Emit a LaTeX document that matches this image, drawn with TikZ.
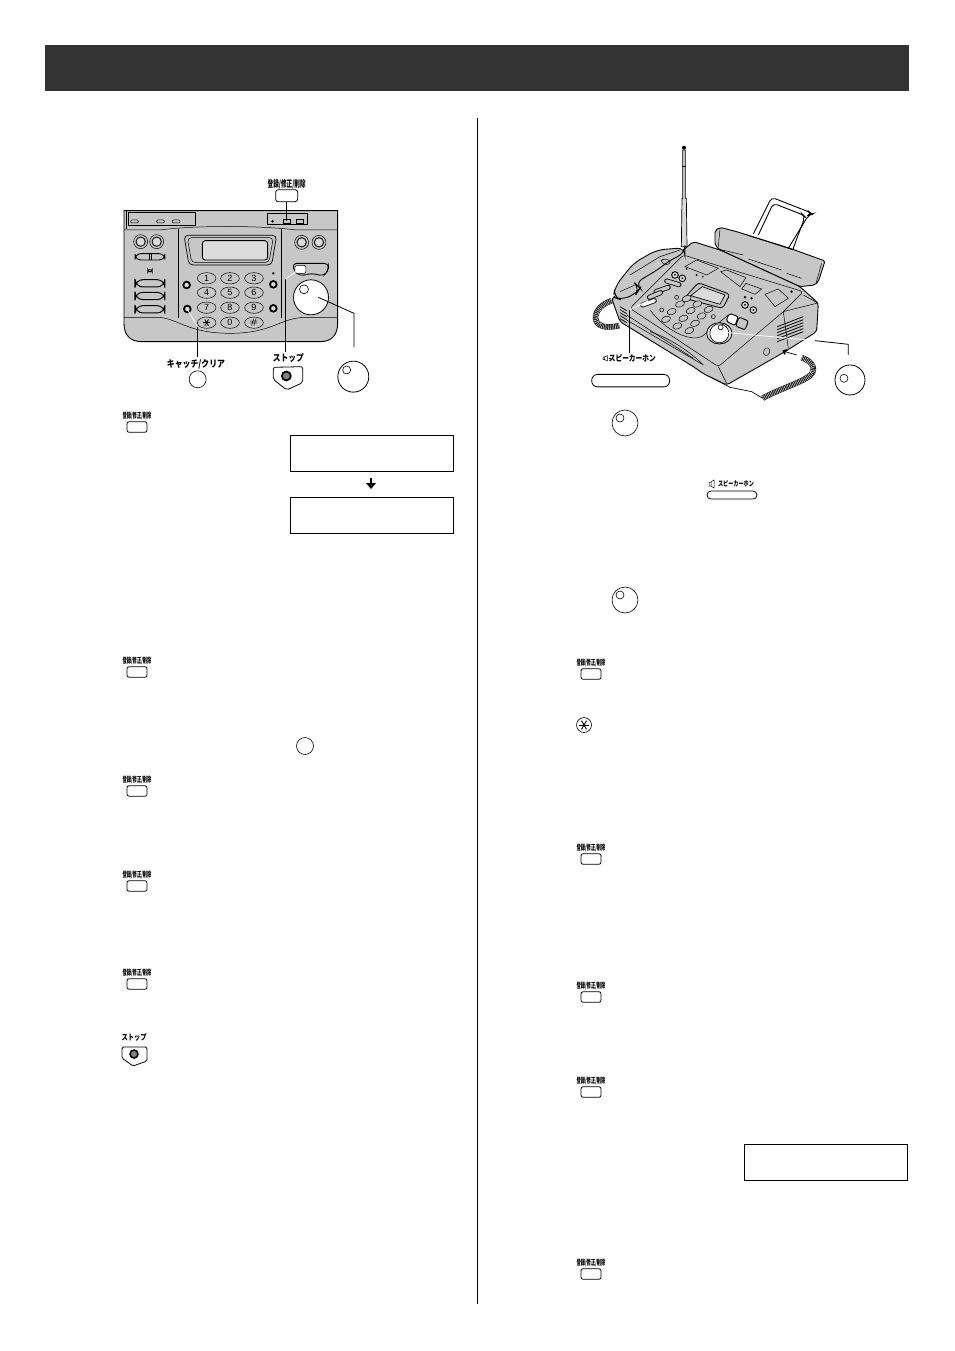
\documentclass[tikz,border=0pt]{standalone}
\usepackage{fontspec}
\setsansfont{Liberation Sans}
\newfontfamily\cjk{Noto Sans CJK JP}
\usetikzlibrary{positioning}
\definecolor{panelgray}{gray}{.78}
\definecolor{lightgray}{gray}{.86}
\definecolor{darkbar}{gray}{.2}
\newcommand{\regtext}[2]{\resizebox{#1pt}{#2pt}{\cjk\bfseries 登録/修正/削除}}
\newcommand{\stoptext}[2]{\resizebox{#1pt}{#2pt}{\cjk\bfseries ストップ}}
\newcommand{\speakertext}[2]{\resizebox{#1pt}{#2pt}{\cjk\bfseries スピーカーホン}}
\tikzset{
	regbox/.style={draw,rounded corners=2pt,minimum width=20pt,minimum height=10.5pt,inner sep=0pt,line width=.8pt},
	bigbox/.style={draw,rounded corners=2.5pt,minimum width=22pt,minimum height=12pt,inner sep=0pt,line width=.8pt,fill=white},
	lcdbox/.style={draw,minimum width=163pt,minimum height=36pt,inner sep=0pt,line width=.8pt},
	textlabel/.style={inner sep=0pt,outer sep=0pt},
	dialring/.style={draw,circle,inner sep=0pt,line width=.6pt,fill=white},
	pad/.style={draw,line width=.5pt,fill=panelgray},
	thinline/.style={line width=.5pt},
	stopicon/.style={circle,draw,fill=gray,inner sep=0pt},
	coilcord/.style={line width=5pt,draw=gray!50,dash pattern=on .7pt off 1pt,preaction={draw=black,solid,line width=5.6pt}},
	pillblack/.style={line width=5pt,line cap=round,draw=black},
}
\begin{document}
\begin{tikzpicture}[x=1pt,y=-1pt]
	\useasboundingbox (0,0) rectangle (954,1351);
	% page furniture
	\node[fill=darkbar,minimum width=864pt,minimum height=46pt,inner sep=0pt] (banner) at (477,68) {};
	\coordinate (septop) at (477,118);
	\coordinate (sepbot) at (477,1304);
	\draw[line width=.8pt] (septop) -- (sepbot);
	%
	% keys in the text
	\foreach \n/\x/\y in {la/137/416,lb/137/661,lc/137/780,ld/137/875,le/137/973,ra/591/663,rb/591/848,rc/591/986,rd/591/1081,re/591/1263}{
		\node[textlabel] (lbl\n) at (\x,\y) {\regtext{29}{6.5}};
		\node[regbox] (key\n) at (\x,\y+11) {};
	}
	\node[textlabel] (lblstopkey) at (134,1037) {\stoptext{25}{7}};
	\node[textlabel] (lblspeaker) at (736,484) {\speakertext{36}{6}};
	\node[draw,rounded corners=4pt,minimum width=50pt,minimum height=8pt,inner sep=0pt,line width=.8pt] (keyspeaker) at (732,495) {};
	\draw[thinline] (709,482) rectangle (711,486) (711,482) -- (714,480) -- (714,488) -- (711,486);
	%
	% stop key in the text
	\draw[line width=.8pt,rounded corners=1.5pt] (122,1047) -- (147,1047) -- (147,1061) -- (133,1066) -- (122,1058) -- cycle;
	\node[stopicon,line width=1.5pt,minimum size=8pt] (iconstop) at (134,1054) {};
	%
	% round keys in the text
	\foreach \n/\x/\y in {dialb/625/423,dialc/625/600}{
		\node[dialring,minimum size=26pt] (\n) at (\x,\y) {};
		\node[dialring,minimum size=8pt] (\n in) at (\x-5,\y-5) {};
	}
	\node[dialring,minimum size=17pt] (keycatch) at (305,746) {};
	\node[dialring,minimum size=15pt] (keystar) at (584,725) {};
	\foreach \a in {0,60,120}{
		\draw[line width=.9pt,shift={(584,725)},rotate=\a] (-5,0) -- (5,0);
	}
	%
	% display boxes
	\node[lcdbox] (lcda) at (372,453) {};
	\node[lcdbox] (lcdb) at (372,515) {};
	\node[lcdbox] (lcdc) at (826,1162) {};
	\draw[line width=2.2pt] (371,478) -- (371,484);
	\fill (366,483) -- (376,483) -- (371,489) -- cycle;
	%
	% front panel, read off at 3x
	\begin{scope}[shift={(110,170)},x=.3333pt,y=-.3333pt]
		\draw[line width=.9pt,fill=panelgray] (42,122) -- (683,122) -- (683,460) .. controls (683,495) and (665,515) .. (630,515)
			-- (95,515) .. controls (60,515) and (42,495) .. (42,460) -- cycle;
		\draw[thinline] (50,122) -- (50,178);
		\draw[thinline] (42,180) -- (150,180) .. controls (250,166) and (450,166) .. (560,180) -- (683,180);
		\draw[thinline] (42,442) -- (140,442) .. controls (200,442) and (230,490) .. (360,490) .. controls (490,490) and (510,442) .. (590,442) -- (683,442);
		\draw[thinline] (205,176) -- (205,445);
		\draw[thinline] (515,176) -- (515,445);
		\draw[pad] (56,127) rectangle (255,167);
		\draw[pad] (472,130) rectangle (592,162);
		\foreach \x in {62,140,187}{
			\draw[pad,rounded corners=1pt] (\x,150) rectangle (\x+23,159);
		}
		\fill (488,154) circle (4);
		\draw[pad] (520,148) rectangle (540,160);
		\draw[pad] (558,148) rectangle (580,160);
		% display
		\draw[line width=.7pt,rounded corners=4pt,fill=panelgray] (222,196) -- (500,196) -- (485,285) -- (237,285) -- cycle;
		\draw[thinline,rounded corners=4pt] (232,203) -- (490,203) -- (477,278) -- (245,278) -- cycle;
		\draw[line width=.9pt,rounded corners=3pt,fill=lightgray] (277,212) rectangle (473,270);
		% left and right buttons
		\foreach \x/\y in {92/215,140/215,575/217,627/217}{
			\draw[pad] (\x,\y) circle (21);
			\draw[line width=.9pt,fill=lightgray] (\x,\y) circle (14);
		}
		\draw[pad,line width=.9pt,rounded corners=6pt] (75,251) rectangle (165,270);
		\draw[thinline] (118,251) -- (118,270);
		\draw[thinline] (124,251) -- (124,270);
		\draw[pad,rounded corners=3pt,fill=white] (113,299) rectangle (127,306);
		\foreach \y in {329,367,407}{
			\draw[pad,line width=1pt,rounded corners=8pt] (75,\y) rectangle (165,\y+22);
		}
		\foreach \x/\y in {230/345,232/417,490/343,490/415}{
			\draw[line width=1.8pt,fill=lightgray] (\x,\y) circle (10);
		}
		\fill (490,310) circle (4);
		% key pad
		\foreach \n/\x/\y/\d in {a/290/325/1,b/360/325/2,c/432/325/3,d/290/368/4,e/360/368/5,f/432/368/6,g/290/413/7,h/360/413/8,i/432/413/9,k/360/458/0}{
			\draw[pad] (\x,\y) ellipse (28 and 17);
			\node[textlabel,font=\sffamily\fontsize{9}{9}\selectfont] (dig\n) at (\x,\y) {\d};
		}
		\draw[pad] (290,458) ellipse (28 and 17);
		\draw[pad] (432,458) ellipse (28 and 17);
		\foreach \a in {0,60,120}{
			\draw[line width=.8pt,shift={(290,458)},rotate=\a] (-11,0) -- (11,0);
		}
		\node[textlabel,font=\bfseries\fontsize{8}{8}\selectfont] (dighash) at (432,458) {\#};
		% stop bar
		\draw[line width=.9pt,rounded corners=4pt,fill=panelgray] (548,280) -- (655,280) -- (655,302) -- (640,318) -- (605,310) -- (570,318) -- (552,302) -- cycle;
		\draw[pad,rounded corners=2pt,fill=white] (555,286) rectangle (588,310);
		% dial
		\node[dialring,minimum size=35pt,line width=.8pt] (dial) at (603,382) {};
		\node[dialring,minimum size=9pt] (dialdot) at (582,358) {};
		% pointers
		\node[textlabel] (lblreg) at (530,42) {\regtext{38}{8}};
		\node[bigbox] (keyreg) at (530,77) {};
		\coordinate (regpin) at (530,152);
		\draw[line width=.8pt] (keyreg) -- (regpin);
		\node[textlabel] (lblcatch) at (258,583) {\resizebox{58pt}{8pt}{\cjk\bfseries キャッチ/クリア}};
		\node[dialring,minimum size=17pt] (keyclear) at (263,628) {};
		\coordinate (catchpin) at (232,417);
		\coordinate (catchbend) at (262,470);
		\coordinate (catchend) at (262,562);
		\draw[draw=white,line width=.8pt] (catchpin) -- (catchbend);
		\draw[line width=.8pt] (catchbend) -- (catchend);
		\node[textlabel] (lblstop) at (535,563) {\stoptext{31}{8}};
		\coordinate (stoppin) at (568,298);
		\coordinate (stopbend) at (525,328);
		\coordinate (stopend) at (525,545);
		\draw[draw=white,line width=.8pt] (stoppin) -- (stopbend);
		\draw[line width=.8pt] (stopbend) -- (stopend);
		\draw[line width=.8pt,rounded corners=2pt] (490,592) -- (578,590) -- (578,638) -- (530,660) -- (490,628) -- cycle;
		\node[stopicon,line width=1.7pt,minimum size=9pt] (iconstopbig) at (529,618) {};
		\node[dialring,minimum size=31pt,line width=.8pt] (dialsmall) at (730,620) {};
		\node[dialring,minimum size=8pt] (dialsmalldot) at (710,600) {};
		\coordinate (dialpin) at (625,382);
		\coordinate (dialbend) at (732,430);
		\coordinate (dialend) at (732,532);
		\draw[line width=.8pt] (dialpin) -- (dialbend) -- (dialend);
	\end{scope}
	%
	% the whole machine, read off at 3x
	\begin{scope}[shift={(570,135)},x=.3333pt,y=-.3333pt]
		% cords behind the body
		\draw[coilcord] (125,497) .. controls (85,510) and (72,540) .. (78,555) .. controls (85,580) and (120,578) .. (148,572);
		\draw[line width=.7pt] (645,650) -- (680,660);
		\draw[coilcord] (695,668) .. controls (730,680) and (740,705) .. (720,722) .. controls (690,745) and (620,765) .. (578,790);
		\draw[line width=.7pt] (578,790) -- (545,770) -- (480,757) -- (400,715);
		% antenna
		\draw[line width=.7pt,fill=lightgray] (338,45) -- (346,45) -- (346,190) -- (349,190) -- (351,335) -- (334,335) -- (336,190) -- (338,190) -- cycle;
		\fill (342,38) circle (6);
		\draw[thinline] (336,95) -- (348,95);
		% paper support wire
		\draw[line width=.9pt,rounded corners=4pt] (550,297) -- (605,187) -- (720,232) -- (726,237) -- (716,240) -- (655,340);
		\draw[line width=.9pt,rounded corners=4pt] (565,300) -- (610,205) -- (700,240) -- (705,245) -- (668,345);
		% paper tray
		\draw[line width=.9pt,fill=panelgray,rounded corners=2pt] (435,287) -- (450,277) -- (500,290) -- (660,340) -- (765,378) -- (745,440) -- (735,450) -- (690,455) -- (450,345) -- (435,330) -- cycle;
		\draw[thinline] (450,282) -- (445,335);
		\draw[thinline] (755,385) -- (738,445);
		\draw[thinline] (530,300) -- (670,345);
		\draw[thinline] (435,340) -- (520,360);
		\draw[thinline] (535,372) -- (635,405);
		\draw[thinline] (650,415) -- (695,430);
		% handset rest and body
		\draw[line width=.9pt,fill=panelgray,rounded corners=3pt] (340,345) -- (370,320) -- (450,345) -- (690,455) -- (745,505) -- (740,590) -- (645,650) -- (470,750) -- (400,716) -- (370,695) -- (150,560) -- (125,490) -- cycle;
		% top face
		\draw[thinline,fill=panelgray,rounded corners=3pt] (180,520) -- (340,360) -- (700,470) -- (640,530) -- (445,695) -- cycle;
		\draw[thinline] (640,530) -- (740,505);
		\draw[thinline] (445,695) -- (470,745);
		\draw[thinline] (640,530) -- (655,640);
		\draw[thinline] (170,540) -- (370,670);
		\draw[thinline] (170,555) -- (400,690);
		\draw[thinline] (240,590) .. controls (300,610) and (360,650) .. (400,690);
		\draw[thinline] (240,525) .. controls (290,590) and (360,620) .. (395,605) -- (475,540);
		% vents
		\foreach \i in {0,...,5}{
			\draw[line width=.8pt] (622,575+\i*9) -- (700,\i*9+545);
		}
		\foreach \i in {0,...,4}{
			\draw[line width=.7pt] (150,515+\i*9) -- (170,527+\i*9);
		}
		\draw[thinline] (700,480) -- (745,505);
		\draw[thinline,rotate around={-20:(590,650)}] (590,650) ellipse (9 and 12);
		\draw[line width=1.8pt] (645,658) -- (641,648) -- (652,645);
		% slots on the upper part
		\draw[pad] (345,395) -- (380,375) -- (445,400) -- (410,420) -- cycle;
		\draw[pad] (452,410) -- (470,405) -- (528,428) -- (510,455) -- cycle;
		\draw[pad] (528,445) -- (575,462) -- (555,478) -- (515,462) -- cycle;
		\draw[pad] (585,478) -- (625,462) -- (655,490) -- (615,515) -- cycle;
		\fill (350,402) circle (3) (380,420) circle (3) (398,425) circle (3) (525,487) circle (4) (545,490) circle (4);
		\fill (665,470) circle (4);
		% display
		\draw[pad,line width=.8pt,rounded corners=3pt] (385,443) -- (480,478) -- (458,520) -- (343,490) -- cycle;
		\draw[pad,line width=.7pt,fill=lightgray] (397,455) -- (465,480) -- (450,508) -- (362,482) -- cycle;
		% buttons
		\foreach \x/\y in {315/420,337/430,525/510,550/525}{
			\draw[line width=.9pt,fill=lightgray] (\x,\y) circle (10);
			\fill (\x,\y) circle (3);
		}
		\draw[pillblack] (290,438) -- (327,449);
		\draw[line width=3.4pt,line cap=round,draw=panelgray] (290,438) -- (327,449);
		\draw[pillblack] (258,470) -- (295,457);
		\draw[line width=3.4pt,line cap=round,draw=panelgray] (258,470) -- (295,457);
		\draw[pillblack] (238,487) -- (272,473);
		\draw[line width=3.4pt,line cap=round,draw=panelgray] (238,487) -- (272,473);
		\draw[pillblack] (218,510) -- (253,497);
		\draw[line width=3.4pt,line cap=round,draw=white] (218,510) -- (253,497);
		% key pad
		\foreach \x/\y in {350/491,382/507,416/523,330/507,362/527,395/543,305/530,340/550,375/565,288/553,322/573,358/587}{
			\draw[pad,rotate around={20:(\x,\y)}] (\x,\y) ellipse (14 and 9);
		}
		\draw[pad] (320,487) circle (6);
		\draw[pad] (275,525) circle (6);
		\draw[pad] (430,545) circle (6);
		% stop bar
		\draw[pad,line width=.9pt,rounded corners=2pt,fill=white] (478,535) -- (505,545) -- (495,572) -- (468,558) -- cycle;
		\draw[pad,line width=.9pt,rounded corners=2pt] (507,546) -- (535,558) -- (525,585) -- (497,573) -- cycle;
		% dial
		\draw[line width=.8pt,fill=lightgray] (448,595) ellipse (38 and 32);
		\node[draw,circle,line width=.6pt,fill=white,minimum size=19pt,inner sep=0pt] (faxdial) at (448,595) {};
		\node[dialring,minimum size=5pt] (faxdialdot) at (452,577) {};
		% handset
		\draw[line width=.9pt,fill=panelgray,rounded corners=8pt] (345,338) -- (260,345) -- (190,385) -- (135,455) -- (130,487) -- (155,495) -- (200,475) -- (210,460) -- (195,445) -- (270,400) -- (300,375) -- (345,355) -- cycle;
		\draw[thinline] (180,420) -- (270,365) -- (330,345);
		\draw[thinline,rounded corners=3pt] (270,378) -- (285,370) -- (305,380) -- (290,392) -- cycle;
		\draw[thinline] (150,470) -- (195,450);
		% pointers
		\coordinate (speakerpin) at (235,497);
		\coordinate (speakerbend) at (178,525);
		\coordinate (speakerend) at (178,655);
		\draw[draw=white,line width=.8pt] (speakerpin) -- (speakerbend);
		\draw[line width=.8pt] (speakerbend) -- (speakerend);
		\coordinate (faxpin) at (465,592);
		\coordinate (faxmid) at (735,617);
		\coordinate (faxbend) at (835,628);
		\coordinate (faxend) at (835,660);
		\draw[draw=white,line width=.8pt] (faxpin) -- (faxmid);
		\draw[line width=.8pt] (faxmid) -- (faxbend) -- (faxend);
		\node[textlabel] (lblfaxspeaker) at (187,670) {\speakertext{47}{7}};
		\draw[thinline] (99,666) rectangle (104,674) (104,666) -- (112,662) -- (112,678) -- (104,674);
		\draw[thinline] (116,670) -- (124,670);
		\node[draw,rounded corners=6pt,minimum width=78pt,minimum height=12.5pt,inner sep=0pt,line width=.8pt] (keyfaxspeaker) at (182,737) {};
		\node[dialring,minimum size=30pt,line width=.8pt] (faxdialsmall) at (840,735) {};
		\node[dialring,minimum size=8pt] (faxdialsmalldot) at (822,730) {};
	\end{scope}
\end{tikzpicture}
\end{document}
